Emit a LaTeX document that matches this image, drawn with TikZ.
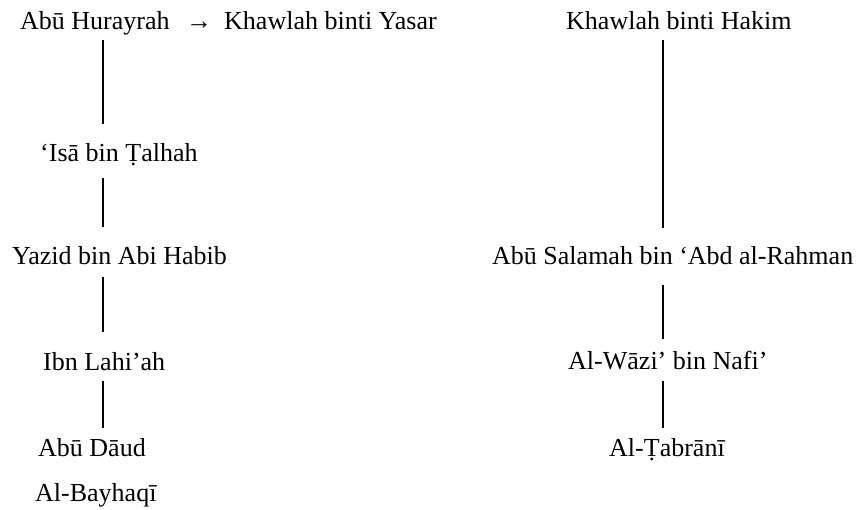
\documentclass[tikz,border=0pt]{standalone}
\usepackage{fontspec}
\setmainfont{Liberation Serif}
\usetikzlibrary{calc}
\begin{document}
\begin{tikzpicture}[x=1pt,y=-1pt,
  txt/.style={anchor=base west, inner sep=0pt, text height=17pt, text depth=0pt, font=\fontsize{26}{30}\selectfont},
  link/.style={line width=1.2pt}]
\useasboundingbox (0,0) rectangle (861,510);
\coordinate (colL) at (103,0);
\coordinate (colR) at (663,0);
% left chain
\node[txt] (hur) at (20,30) {Abū Hurayrah};
\node[txt] (arr) at (186,30) {→};
\node[txt] (yas) at (224,30) {Khawlah binti Yasar};
\node[txt] (isa) at (40,162) {‘Isā bin Ṭalhah};
\node[txt] (yaz) at (12,265) {Yazid bin Abi Habib};
\node[txt] (ibn) at (43,370) {Ibn Lahi’ah};
\node[txt] (dau) at (38,456) {Abū Dāud};
\node[txt] (bay) at (35,501) {Al-Bayhaqi^^^^0304};
% right chain
\node[txt] (hak) at (566,30) {Khawlah binti Hakim};
\node[txt] (sal) at (492,265) {Abū Salamah bin ‘Abd al-Rahman};
\node[txt] (waz) at (568,369) {Al-Wāzi’ bin Nafi’};
\node[txt] (tab) at (609,456) {Al-Ṭabrāni^^^^0304};
% connectors
\draw[link] ($(hur.south -| colL)+(0,10)$) -- ($(isa.north -| colL)+(0,-21)$);
\draw[link] ($(isa.south -| colL)+(0,16)$) -- ($(yaz.north -| colL)+(0,-21)$);
\draw[link] ($(yaz.south -| colL)+(0,12)$) -- ($(ibn.north -| colL)+(0,-21)$);
\draw[link] ($(ibn.south -| colL)+(0,11)$) -- ($(dau.north -| colL)+(0,-11)$);
\draw[link] ($(hak.south -| colR)+(0,10)$) -- ($(sal.north -| colR)+(0,-20)$);
\draw[link] ($(sal.south -| colR)+(0,20)$) -- ($(waz.north -| colR)+(0,-13)$);
\draw[link] ($(waz.south -| colR)+(0,12)$) -- ($(tab.north -| colR)+(0,-11)$);
\end{tikzpicture}
\end{document}
